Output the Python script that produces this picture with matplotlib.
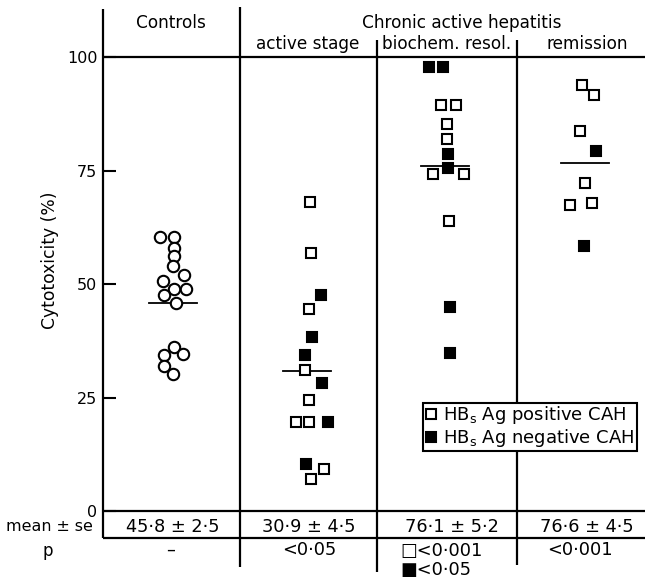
import matplotlib
matplotlib.use("Agg")
import matplotlib.pyplot as plt
from matplotlib.lines import Line2D

plt.rcParams['font.family'] = ['DejaVu Sans']
plt.rcParams['font.size'] = 12
plt.rcParams['mathtext.fontset'] = 'dejavusans'

# ---------------- data ----------------
groups = ["Controls", "active stage", "biochem. resol.", "remission"]
super_header = "Chronic active hepatitis"

controls_values = [60.3, 60.5, 58.0, 56.1, 53.9, 52.1, 50.8, 49.0, 49.0, 47.7,
                   45.8, 36.2, 34.3, 34.6, 31.9, 30.3]

active_pos_values = [68.1, 56.9, 44.5, 31.1, 24.5, 19.7, 19.7, 9.2, 7.1]
active_neg_values = [47.5, 38.3, 34.3, 28.2, 19.7, 10.3]

resol_pos_values = [89.4, 89.4, 85.4, 82.1, 74.2, 74.2, 64.0]
resol_neg_values = [97.9, 97.9, 78.7, 75.6, 44.9, 34.9]

remis_pos_values = [93.8, 91.6, 83.7, 72.3, 67.5, 67.8]
remis_neg_values = [79.3, 58.3]

group_means = [45.8, 30.9, 76.1, 76.6]
group_se = [2.5, 4.5, 5.2, 4.5]
p_labels = ["–", "<0·05", None, "<0·001"]
p_resol_pos = "□<0·001"
p_resol_neg = "■<0·05"

yticks = [0, 25, 50, 75, 100]
legend_labels = ["HB$_\\mathsf{s}$ Ag positive CAH", "HB$_\\mathsf{s}$ Ag negative CAH"]

# ---------------- layout (pixel-like x units) ----------------
controls_dx = [-12, 2, 2.5, 2, 1, 12, -9, 2.5, 14.5, -8, 4, 2, -8, 11, -8, 1]
active_pos_dx = [1.5, 2, 0.5, -4, 0.5, -12.5, 0.5, 15.5, 2.5]
active_neg_dx = [12, 3, -4, 13, 19, -2.5]
resol_pos_dx = [-6.3, 8.7, 0.3, 0.3, -13.7, 17, 2]
resol_neg_dx = [-18, -3.7, 1.3, 1.3, 3.3, 3.3]
remis_pos_dx = [0.7, 13, -1.3, 4, -10.7, 10.7]
remis_neg_dx = [15.3, 3.3]

centers = [68.5, 205.5, 344, 478]
mean_line_centers = [69.5, 203.5, 342, 481.5]
dividers = [137, 274, 414]
xmax = 542

W, H = 645, 580
ppu = 4.537
y0_px = 511
x_left_px = 103
ylo, yhi = -15, 111.5
ax_bottom_px = y0_px - ylo * ppu
ax_top_px = y0_px - yhi * ppu

fig = plt.figure(figsize=(W / 100, H / 100), dpi=100)
fig.patch.set_facecolor('white')
ax = fig.add_axes([x_left_px / W, 1 - ax_bottom_px / H,
                   (W - x_left_px) / W, (ax_bottom_px - ax_top_px) / H])
ax.set_xlim(0, xmax)
ax.set_ylim(ylo, yhi)
for s in ax.spines.values():
    s.set_visible(False)
ax.set_xticks([])
ax.set_yticks(yticks)
ax.set_yticklabels([str(t) for t in yticks])
ax.tick_params(axis='y', direction='in', length=9.5, width=1.5, pad=4, labelsize=11.5)

LW = 1.6
k = 'black'
# frame
ax.plot([0, 0], [110.6, -5.95], color=k, lw=LW, clip_on=False, solid_capstyle='butt')
ax.plot([dividers[0]] * 2, [111.1, -12.3], color=k, lw=LW, clip_on=False, solid_capstyle='butt')
ax.plot([dividers[1]] * 2, [103.8, -13.4], color=k, lw=LW, clip_on=False, solid_capstyle='butt')
ax.plot([dividers[2]] * 2, [103.8, -11.9], color=k, lw=LW, clip_on=False, solid_capstyle='butt')
for yy in [100, 0, -5.95]:
    ax.plot([0, xmax], [yy, yy], color=k, lw=LW, clip_on=False, solid_capstyle='butt')

# headers
HFS = 12.2
ax.text(68, 107.6, groups[0], ha='center', va='center', fontsize=HFS)
ax.text(359, 107.6, super_header, ha='center', va='center', fontsize=HFS)
ax.text(205, 102.9, groups[1], ha='center', va='center', fontsize=HFS)
ax.text(344, 102.9, groups[2], ha='center', va='center', fontsize=HFS)
ax.text(484, 102.9, groups[3], ha='center', va='center', fontsize=HFS)

# points
ms = 8.2
mew = 1.5
ax.plot([centers[0] + d for d in controls_dx], controls_values, 'o', ms=ms, mfc='white',
        mec=k, mew=mew, ls='none', zorder=3)


def squares(cx, dx, vals, filled):
    ax.plot([cx + d for d in dx], vals, 's', ms=7.6, mfc=(k if filled else 'white'),
            mec=k, mew=mew, ls='none', zorder=3)


squares(centers[1], active_pos_dx, active_pos_values, False)
squares(centers[1], active_neg_dx, active_neg_values, True)
squares(centers[2], resol_pos_dx, resol_pos_values, False)
squares(centers[2], resol_neg_dx, resol_neg_values, True)
squares(centers[3], remis_pos_dx, remis_pos_values, False)
squares(centers[3], remis_neg_dx, remis_neg_values, True)

# mean lines
for c, m in zip(mean_line_centers, group_means):
    ax.plot([c - 24, c + 24], [m, m], color=k, lw=1.3, zorder=2)

# y label
ax.text(-53, 55.3, "Cytotoxicity (%)", rotation=90, ha='center', va='center', fontsize=12.3)

# table
TFS = 12.8
ax.text(-10, -3.5, "mean ± se", ha='right', va='center', fontsize=11.4, clip_on=False)
ax.text(-55, -8.8, "p", ha='center', va='center', fontsize=12, clip_on=False)
table_x = [69.5, 206, 349, 484]
for x, m, s in zip(table_x, group_means, group_se):
    txt = f"{m:.1f} ± {s:.1f}".replace('.', '·')
    ax.text(x, -3.5, txt, ha='center', va='center', fontsize=TFS)
p_x = [68, 206, None, 477]
for x, p in zip(p_x, p_labels):
    if p is not None:
        ax.text(x, -8.6, p, ha='center', va='center', fontsize=TFS, clip_on=False)
ax.text(297, -8.9, p_resol_pos, ha='left', va='center', fontsize=TFS, clip_on=False)
ax.text(297, -12.9, p_resol_neg, ha='left', va='center', fontsize=TFS, clip_on=False)

# legend
handles = [Line2D([], [], marker='s', ls='none', ms=7.6, mfc='white', mec=k, mew=mew),
           Line2D([], [], marker='s', ls='none', ms=7.6, mfc=k, mec=k, mew=mew)]
leg = ax.legend(handles, legend_labels, loc='upper left', bbox_to_anchor=(319.7, 23.9),
                bbox_transform=ax.transData, borderaxespad=0, frameon=True, fancybox=False,
                edgecolor=k, framealpha=1, fontsize=13, handlelength=0.7, handletextpad=0.35,
                borderpad=0.1, labelspacing=0.05)
leg.get_frame().set_linewidth(1.5)
leg.set_zorder(5)

fig.savefig("out.png", dpi=100, facecolor='white')
